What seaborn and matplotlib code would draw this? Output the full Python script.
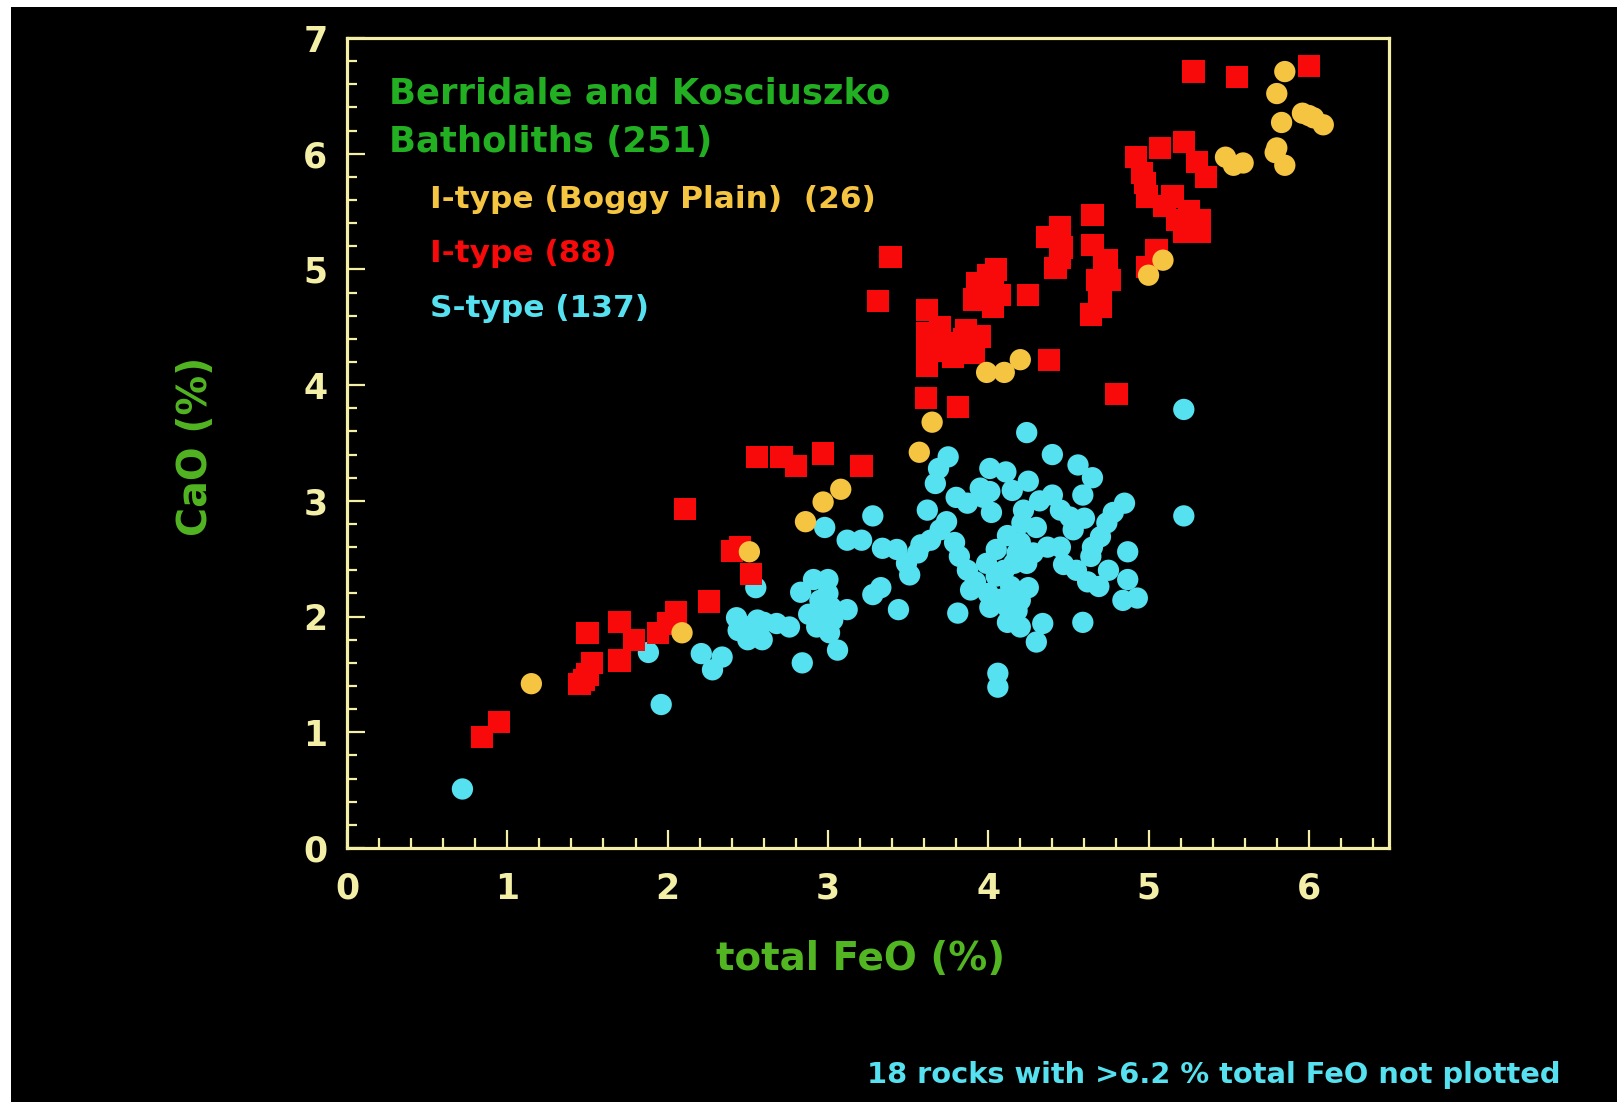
import matplotlib
matplotlib.use("Agg")
import matplotlib.pyplot as plt
from matplotlib.patches import Rectangle
from matplotlib.ticker import MultipleLocator
import seaborn as sns

# ---------------- data ----------------
# S-type (cyan circles)
s_feo = [0.72, 1.96, 1.88, 2.21, 2.34, 2.28, 2.43, 2.44,
         2.55, 2.51, 2.56, 2.50, 2.59, 2.68, 2.76, 2.84, 2.83, 2.91, 3.00, 2.95,
         3.02, 3.12, 2.93, 3.03, 3.01, 3.06, 2.98, 3.12, 3.21, 3.28, 3.34, 3.43,
         3.49, 3.51, 3.56, 3.64, 3.33, 3.28, 3.44, 3.62, 3.75, 3.69, 3.67, 3.80,
         3.87, 3.97, 4.01, 4.01, 3.74, 3.79, 3.82, 3.87, 3.89, 3.81, 3.99, 4.00,
         4.01, 4.05, 4.06, 4.06,
         5.22, 5.22, 4.24, 4.40, 4.11, 4.25, 4.56, 4.65, 3.95, 4.15, 4.40, 4.59,
         4.22, 4.45, 4.51, 4.85, 4.78, 4.74, 4.21, 4.30, 4.53, 4.70, 4.65, 4.64,
         4.87, 4.45, 4.37, 4.47, 4.20, 4.16, 4.24, 4.14, 4.25, 4.62, 4.69, 4.87,
         4.12, 4.20, 4.84, 4.93, 4.12, 4.20, 4.34, 4.59, 4.30,
         2.60, 2.47, 2.97, 3.00, 2.88, 4.05, 4.10, 4.18, 4.12, 4.28, 4.02, 4.32,
         3.92, 4.18, 4.08, 3.58, 3.70, 4.55, 4.60, 4.75]
s_cao = [0.51, 1.24, 1.69, 1.68, 1.65, 1.54, 1.99, 1.88,
         2.25, 1.88, 1.97, 1.80, 1.80, 1.94, 1.91, 1.60, 2.21, 2.32, 2.32, 2.14,
         2.08, 2.06, 1.91, 1.97, 1.86, 1.71, 2.77, 2.66, 2.66, 2.87, 2.59, 2.58,
         2.46, 2.36, 2.55, 2.66, 2.25, 2.19, 2.06, 2.92, 3.38, 3.28, 3.15, 3.03,
         2.98, 3.03, 3.28, 3.08, 2.82, 2.64, 2.52, 2.40, 2.23, 2.03, 2.46, 2.20,
         2.08, 2.58, 1.51, 1.39,
         3.79, 2.87, 3.59, 3.40, 3.25, 3.17, 3.31, 3.20, 3.11, 3.09, 3.05, 3.05,
         2.92, 2.92, 2.86, 2.98, 2.90, 2.81, 2.81, 2.77, 2.75, 2.69, 2.60, 2.52,
         2.56, 2.60, 2.60, 2.45, 2.64, 2.46, 2.46, 2.26, 2.25, 2.30, 2.26, 2.32,
         2.08, 2.14, 2.14, 2.16, 1.95, 1.91, 1.94, 1.95, 1.78,
         1.95, 1.92, 2.00, 2.20, 2.02, 2.35, 2.40, 2.55, 2.70, 2.55, 2.90, 3.00,
         2.30, 2.05, 2.15, 2.62, 2.75, 2.40, 2.85, 2.40]

# I-type (red squares)
i_feo = [0.84, 0.95, 1.45, 1.50, 1.53, 1.50, 1.70, 1.70, 1.79, 1.94, 2.00, 2.05,
         2.26, 2.11, 2.40, 2.45, 2.52, 2.56, 2.71, 2.80, 2.97, 3.21, 3.39, 3.31,
         3.62, 3.62, 3.62, 3.70, 3.76, 3.86, 3.95, 3.91, 3.78, 3.62, 3.61, 3.81,
         4.05, 3.93, 4.03, 3.91, 4.03, 3.99, 4.07, 4.25, 4.38, 4.80, 4.37, 4.45,
         4.46, 4.42, 4.65, 4.65, 4.72, 4.76, 4.68, 4.69, 4.64, 4.74, 5.28, 5.55,
         6.00, 4.92, 5.07, 5.22, 5.30, 5.36, 4.96, 4.99, 5.15, 5.32, 5.18, 5.22,
         5.32, 5.05, 4.99, 4.74, 4.70,
         4.98, 5.25, 3.68, 3.85, 4.00, 4.70, 5.10, 3.72, 5.27, 1.48, 4.45]
i_cao = [0.96, 1.09, 1.42, 1.50, 1.60, 1.86, 1.95, 1.62, 1.80, 1.86, 1.94, 2.04,
         2.13, 2.93, 2.57, 2.60, 2.37, 3.38, 3.38, 3.30, 3.41, 3.30, 5.11, 4.73,
         4.65, 4.45, 4.17, 4.50, 4.36, 4.48, 4.42, 4.28, 4.24, 4.33, 3.89, 3.81,
         5.00, 4.88, 4.88, 4.74, 4.68, 4.78, 4.78, 4.78, 4.22, 3.92, 5.28, 5.37,
         5.19, 5.01, 5.47, 5.21, 5.04, 4.91, 4.91, 4.76, 4.61, 5.08, 6.71, 6.66,
         6.76, 5.97, 6.05, 6.10, 5.93, 5.80, 5.83, 5.63, 5.63, 5.43, 5.43, 5.32,
         5.32, 5.17, 5.02, 4.97, 4.68,
         5.75, 5.50, 4.40, 4.40, 4.95, 4.85, 5.55, 4.30, 5.40, 1.45, 5.10]

# I-type Boggy Plain (gold circles)
b_feo = [1.15, 2.09, 2.51, 2.86, 2.97, 3.08, 3.57, 3.65, 3.99, 4.10, 4.20,
         5.00, 5.09, 5.48, 5.53, 5.59, 5.79, 5.85, 5.85, 5.80, 5.83, 5.96,
         6.03, 6.09, 5.80, 6.00]
b_cao = [1.42, 1.86, 2.56, 2.82, 2.99, 3.10, 3.42, 3.68, 4.11, 4.11, 4.22,
         4.95, 5.08, 5.97, 5.90, 5.92, 6.01, 5.90, 6.71, 6.52, 6.27, 6.35,
         6.31, 6.25, 6.05, 6.33]

x_ticks = [0, 1, 2, 3, 4, 5, 6]
y_ticks = [0, 1, 2, 3, 4, 5, 6, 7]

# ---------------- styling ----------------
FRAME = "#f4efa6"
CYAN = "#55e1f0"
RED = "#f80a0a"
GOLD = "#f5c542"
TITLE_GREEN = "#22b022"
LABEL_GREEN = "#52b522"

sns.set_style("dark")
plt.rcParams["font.family"] = ["DejaVu Sans"]

W, H = 1617, 1102
fig = plt.figure(figsize=(W / 100, H / 100), dpi=100, facecolor="white")
fig.patches.append(Rectangle((11 / W, 0), 1 - 11 / W, 1 - 7 / H,
                             transform=fig.transFigure, facecolor="black",
                             edgecolor="none", zorder=-10))

L, R, T, B = 347, 1389, 38, 848
ax = fig.add_axes([L / W, 1 - B / H, (R - L) / W, (B - T) / H])
ax.set_facecolor("black")

sns.scatterplot(x=s_feo, y=s_cao, ax=ax, color=CYAN, marker="o", s=235,
                linewidth=0, edgecolor="none", zorder=3)
sns.scatterplot(x=i_feo, y=i_cao, ax=ax, color=RED, marker="s", s=255,
                linewidth=0, edgecolor="none", zorder=4)
sns.scatterplot(x=b_feo, y=b_cao, ax=ax, color=GOLD, marker="o", s=235,
                linewidth=0, edgecolor="none", zorder=5)

ax.set_xlim(0, 6.5)
ax.set_ylim(0, 7)
ax.set_xticks(x_ticks)
ax.set_yticks(y_ticks)
ax.set_xticklabels([str(v) for v in x_ticks])
ax.set_yticklabels([str(v) for v in y_ticks])
ax.xaxis.set_minor_locator(MultipleLocator(0.2))
ax.yaxis.set_minor_locator(MultipleLocator(0.2))
ax.grid(False)

for sp in ax.spines.values():
    sp.set_visible(True)
    sp.set_color(FRAME)
    sp.set_linewidth(2.3)

ax.tick_params(which="both", direction="in", color=FRAME, top=False,
               right=False, bottom=True, left=True)
ax.tick_params(which="major", length=13, width=1.6)
ax.tick_params(which="minor", length=7.5, width=1.6)
ax.tick_params(axis="x", which="major", pad=17, labelsize=25,
               labelcolor=FRAME)
ax.tick_params(axis="y", which="major", pad=14, labelsize=25,
               labelcolor=FRAME)
for lab in ax.get_xticklabels() + ax.get_yticklabels():
    lab.set_fontweight("bold")

ax.set_xlabel("total FeO (%)", fontsize=28, fontweight="bold",
              color=LABEL_GREEN, va="center")
ax.xaxis.set_label_coords((861 - L) / (R - L), (B - 959) / (B - T))
ax.set_ylabel("CaO (%)", fontsize=28.5, fontweight="bold",
              color=LABEL_GREEN, va="center")
ax.yaxis.set_label_coords((196 - L) / (R - L), (B - 446) / (B - T))


def ay(ypix):
    return (B - ypix) / (B - T)


def axx(xpix):
    return (xpix - L) / (R - L)


ax.text(axx(389), ay(103), "Berridale and Kosciuszko", transform=ax.transAxes,
        fontsize=25.5, fontweight="bold", color=TITLE_GREEN, va="baseline")
ax.text(axx(389), ay(152), "Batholiths (251)", transform=ax.transAxes,
        fontsize=25.5, fontweight="bold", color=TITLE_GREEN, va="baseline")
ax.text(axx(430), ay(208), "I-type (Boggy Plain)  (26)", transform=ax.transAxes,
        fontsize=22.5, fontweight="bold", color=GOLD, va="baseline")
ax.text(axx(430), ay(262), "I-type (88)", transform=ax.transAxes,
        fontsize=22.5, fontweight="bold", color=RED, va="baseline")
ax.text(axx(430), ay(317), "S-type (137)", transform=ax.transAxes,
        fontsize=22.5, fontweight="bold", color=CYAN, va="baseline")

fig.text(1560 / W, 1 - 1083 / H, "18 rocks with >6.2 % total FeO not plotted",
         ha="right", va="baseline", fontsize=20.8, fontweight="bold",
         color=CYAN)

fig.savefig("out.png", dpi=100, facecolor=fig.get_facecolor())
